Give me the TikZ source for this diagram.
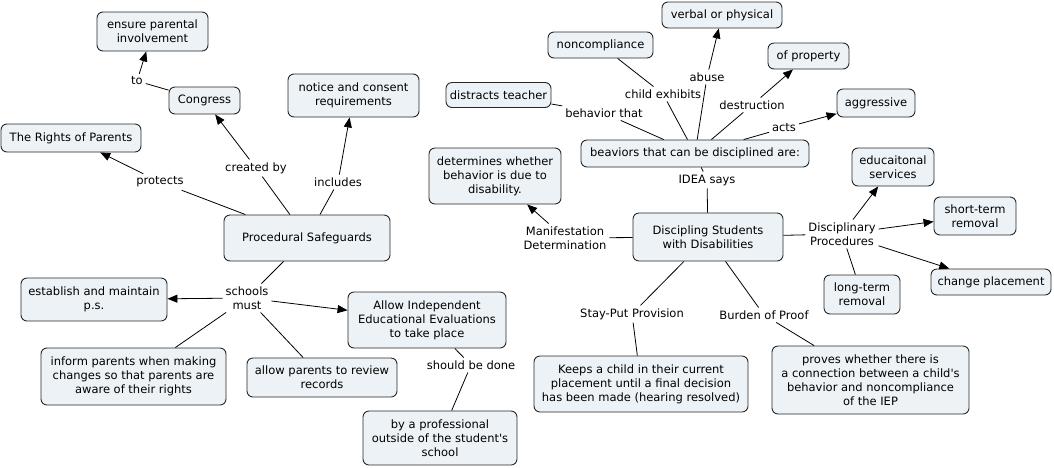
\documentclass[tikz,border=0pt]{standalone}
\usepackage{fontspec}
\setmainfont{DejaVu Sans}[Ligatures=TeXOff]
\usetikzlibrary{arrows.meta}
\definecolor{boxfill}{RGB}{236,242,245}
\definecolor{boxline}{RGB}{40,40,40}
\tikzset{
  cbox/.style={draw=boxline, fill=boxfill, rounded corners=6pt, align=center, inner sep=0pt, line width=0.9pt, font=\fontsize{11.5}{14}\selectfont},
  clabel/.style={align=center, inner sep=2pt, outer sep=1pt, font=\fontsize{11.5}{14}\selectfont},
  link/.style={draw=black, line width=0.8pt},
  arr/.style={link, -{Triangle[length=10pt,width=8pt]}},
}
\begin{document}
\begin{tikzpicture}[x=1pt,y=-1pt]
\fill[white] (0,0) rectangle (1054,467);
\useasboundingbox (0,0) rectangle (1054,467);
% left concept boxes
\node[cbox,minimum width=111pt,minimum height=39pt] (ensure) at (152.5,31.5) {ensure parental\\involvement};
\node[cbox,minimum width=71pt,minimum height=27pt] (congress) at (204.5,100.5) {Congress};
\node[cbox,minimum width=131pt,minimum height=43pt] (notice) at (353.5,95.5) {notice and consent\\requirements};
\node[cbox,minimum width=140pt,minimum height=28pt] (rights) at (71,138) {The Rights of Parents};
\node[cbox,minimum width=166pt,minimum height=46pt] (proc) at (307,238) {Procedural Safeguards};
\node[cbox,minimum width=146pt,minimum height=43pt] (establish) at (94,299.5) {establish and maintain\\p.s.};
\node[cbox,minimum width=158pt,minimum height=56pt] (iee) at (427,320) {Allow Independent\\Educational Evaluations\\to take place};
\node[cbox,minimum width=185pt,minimum height=57pt] (inform) at (133.5,376.5) {inform parents when making\\changes so that parents are\\aware of their rights};
\node[cbox,minimum width=150pt,minimum height=39pt] (review) at (322,377.5) {allow parents to review\\records};
\node[cbox,minimum width=154pt,minimum height=54pt] (prof) at (440,438) {by a professional\\outside of the student's\\school};
% right concept boxes
\node[cbox,minimum width=120pt,minimum height=26pt] (verbal) at (722,15) {verbal or physical};
\node[cbox,minimum width=105pt,minimum height=26pt] (noncomp) at (600.5,45) {noncompliance};
\node[cbox,minimum width=81pt,minimum height=26pt] (property) at (808.5,56) {of property};
\node[cbox,minimum width=105pt,minimum height=25pt] (distracts) at (498.5,95) {distracts teacher};
\node[cbox,minimum width=78pt,minimum height=28pt] (aggressive) at (876,103) {aggressive};
\node[cbox,minimum width=228pt,minimum height=27pt] (beh) at (695,153.5) {beaviors that can be disciplined are:};
\node[cbox,minimum width=132pt,minimum height=56pt] (determ) at (495,176) {determines whether\\behavior is due to\\disability.};
\node[cbox,minimum width=82pt,minimum height=38pt] (educ) at (893,167) {educaitonal\\services};
\node[cbox,minimum width=150pt,minimum height=48pt] (disc) at (708,237) {Discipling Students\\with Disabilities};
\node[cbox,minimum width=82pt,minimum height=38pt] (short) at (975,216) {short-term\\removal};
\node[cbox,minimum width=120pt,minimum height=26pt] (change) at (991,282) {change placement};
\node[cbox,minimum width=76pt,minimum height=39pt] (long) at (862,294.5) {long-term\\removal};
\node[cbox,minimum width=214pt,minimum height=56pt] (keeps) at (641,384) {Keeps a child in their current\\placement until a final decision\\has been made (hearing resolved)};
\node[cbox,minimum width=197pt,minimum height=68pt] (proves) at (870.5,380) {proves whether there is\\a connection between a child's\\behavior and noncompliance\\of the IEP};
% linking phrases
\node[clabel] (protects) at (160,182) {protects};
\node[clabel] (createdby) at (256,168) {created by};
\node[clabel] (includes) at (338,182) {includes};
\node[clabel] (to) at (137,81) {to};
\node[clabel] (schools) at (247,298) {schools\\must};
\node[clabel] (should) at (471,365) {should be done};
\node[clabel] (childex) at (663,94) {child exhibits};
\node[clabel] (abuse) at (707,77) {abuse};
\node[clabel] (behthat) at (604,113) {behavior that};
\node[clabel] (destr) at (752,105) {destruction};
\node[clabel] (acts) at (784,128) {acts};
\node[clabel] (idea) at (707,180) {IDEA says};
\node[clabel] (manif) at (565,238) {Manifestation\\Determination};
\node[clabel] (discproc) at (842,234) {Disciplinary\\Procedures};
\node[clabel] (stayput) at (632,314) {Stay-Put Provision};
\node[clabel] (burden) at (764,315) {Burden of Proof};
% connectors left
\draw[link] (proc) -- (protects);
\draw[arr] (protects) -- (rights);
\draw[link] (proc) -- (createdby);
\draw[arr] (createdby) -- (congress);
\draw[link] (proc) -- (includes);
\draw[arr] (includes) -- (notice);
\draw[link] (congress) -- (to);
\draw[arr] (to) -- (ensure);
\draw[link] (proc) -- (schools);
\draw[arr] (schools) -- (establish);
\draw[arr] (schools) -- (iee);
\draw[link] (schools) -- (inform);
\draw[link] (schools) -- (review);
\draw[link] (iee) -- (should);
\draw[link] (should) -- (prof);
% connectors right
\draw[link] (beh) -- (childex);
\draw[link] (childex) -- (noncomp);
\draw[link] (beh) -- (abuse);
\draw[arr] (abuse) -- (verbal);
\draw[link] (beh) -- (behthat);
\draw[link] (behthat) -- (distracts);
\draw[link] (beh) -- (destr);
\draw[arr] (destr) -- (property);
\draw[link] (beh) -- (acts);
\draw[arr] (acts) -- (aggressive);
\draw[link] (disc) -- (idea);
\draw[link] (idea) -- (beh);
\draw[link] (disc) -- (manif);
\draw[arr] (manif) -- (determ);
\draw[link] (disc) -- (discproc);
\draw[arr] (discproc) -- (educ);
\draw[arr] (discproc) -- (short);
\draw[arr] (discproc) -- (change);
\draw[link] (discproc) -- (long);
\draw[link] (disc) -- (stayput);
\draw[link] (stayput) -- (keeps);
\draw[link] (disc) -- (burden);
\draw[link] (burden) -- (proves);
\end{tikzpicture}
\end{document}
